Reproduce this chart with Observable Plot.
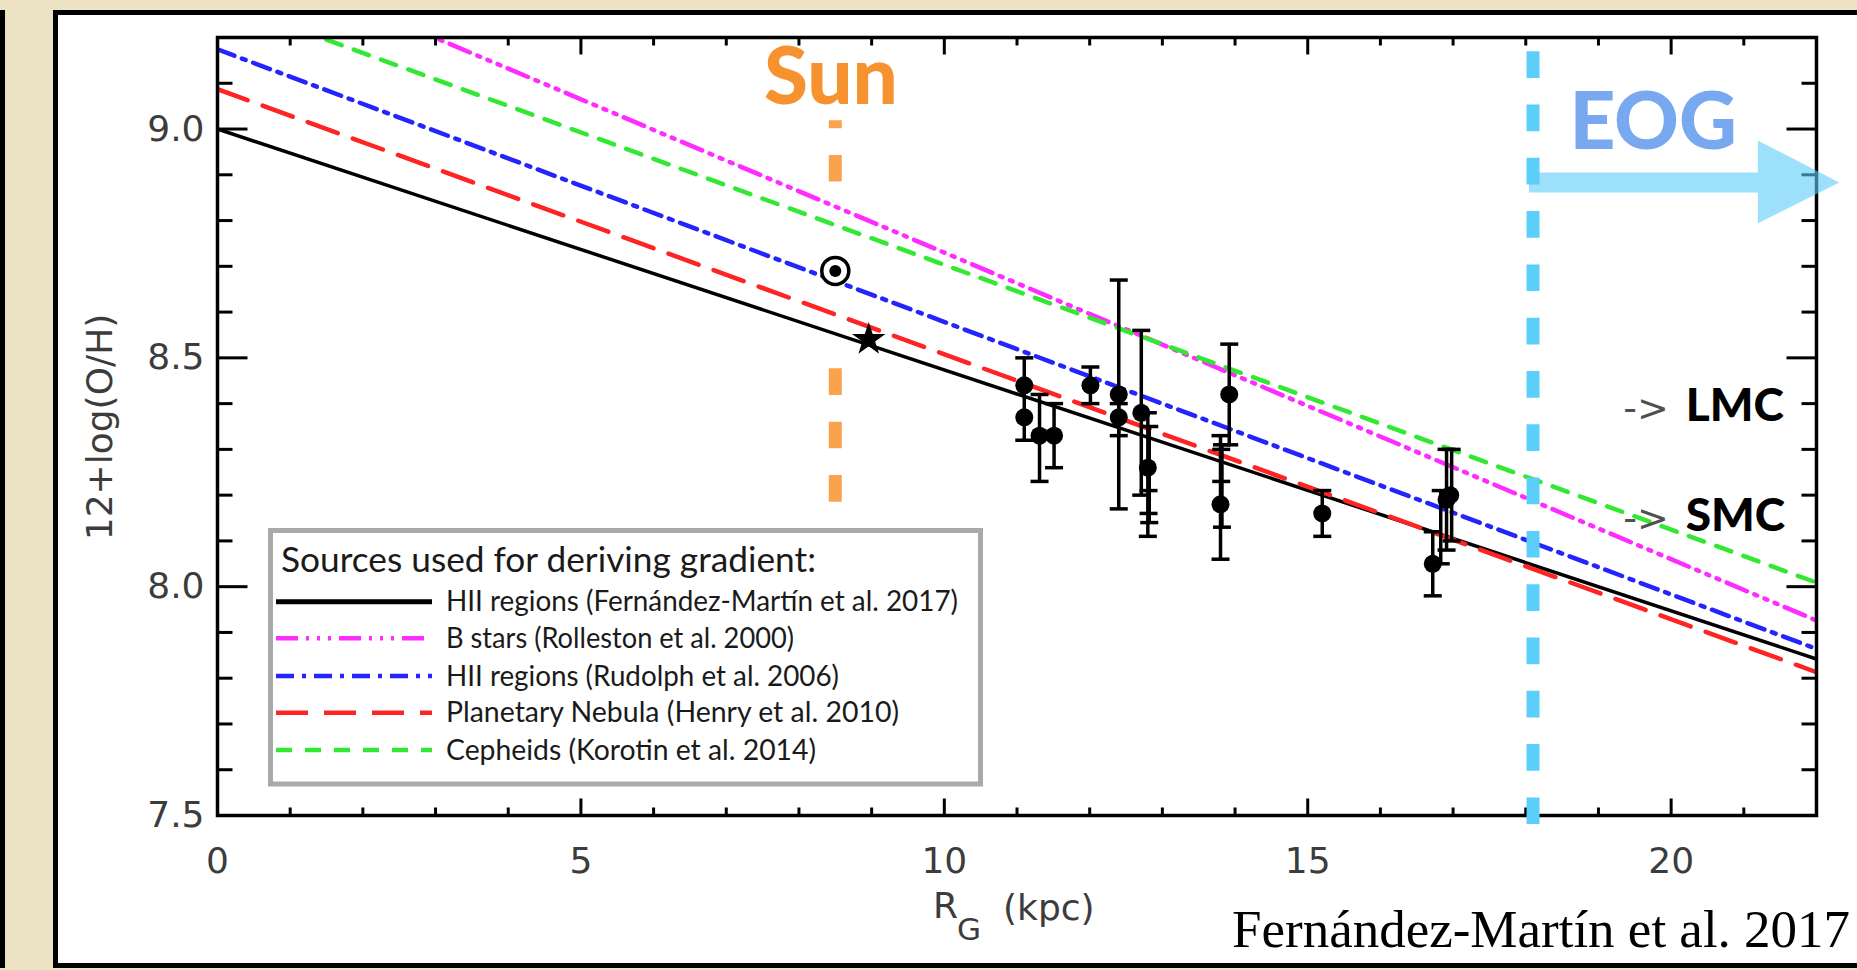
<!DOCTYPE html>
<html><head><meta charset="utf-8">
<script src="https://cdn.jsdelivr.net/npm/d3@7"></script>
<script src="https://cdn.jsdelivr.net/npm/@observablehq/plot@0.6"></script>
<style>
html,body{margin:0;padding:0;}
body{width:1857px;height:970px;overflow:hidden;background:#ebe3c4;position:relative;}
#leftbar{position:absolute;left:0;top:10px;width:5px;height:958px;background:#000;}
#panel{position:absolute;left:53px;top:10px;width:1830px;height:958px;box-sizing:border-box;border:5px solid #000;border-right:none;background:#fff;}
#chart{position:absolute;left:0;top:0;}
#overlay{position:absolute;left:0;top:0;pointer-events:none;}
</style></head><body>
<div id="leftbar"></div><div id="panel"></div><div id="chart"></div>
<svg id="overlay" width="1857" height="970">
  <g font-family="'DejaVu Sans', sans-serif" fill="#3c3c3c" font-size="36">
    <text transform="translate(112,427) rotate(-90)" text-anchor="middle">12+log(O/H)</text>
    <text x="933" y="918">R</text>
    <text x="957" y="940" font-size="31">G</text>
    <text x="1003" y="920">(kpc)</text>
  </g>
  <text x="1232" y="947" font-family="'Liberation Serif', serif" font-size="53" fill="#000">Fernández-Martín et al. 2017</text>
  <g id="legend"></g>
</svg>
<script>
// ---------- data ----------
const xDomain = [0, 22];
const yDomain = [7.5, 9.2];
const xMajorTicks = [0, 5, 10, 15, 20];
const xMinorTicks = [1, 2, 3, 4, 6, 7, 8, 9, 11, 12, 13, 14, 16, 17, 18, 19, 21];
const yMajorTicks = [7.5, 8.0, 8.5, 9.0];
const yMinorTicks = [7.6, 7.7, 7.8, 7.9, 8.1, 8.2, 8.3, 8.4, 8.6, 8.7, 8.8, 8.9, 9.1];

const gradientNames = [
  "HII regions (Fernández-Martín et al. 2017)",
  "B stars (Rolleston et al. 2000)",
  "HII regions (Rudolph et al. 2006)",
  "Planetary Nebula (Henry et al. 2010)",
  "Cepheids (Korotin et al. 2014)"
];
const gradientStartR = [0, 0, 0, 0, 0];
const gradientStartOH = [9.00, 9.40, 9.174, 9.087, 9.282];
const gradientEndR = [22, 22, 22, 22, 22];
const gradientEndOH = [7.842, 7.926, 7.864, 7.813, 8.009];

// HII region measurements (this work)
const hiiR  = [11.10, 11.10, 11.31, 11.51, 12.01, 12.40, 12.40, 12.71, 12.80, 13.80, 13.92, 15.20, 16.72, 16.91, 16.96];
const hiiOH = [8.44, 8.37, 8.33, 8.33, 8.44, 8.42, 8.37, 8.38, 8.26, 8.18, 8.42, 8.16, 8.05, 8.19, 8.20];
const errR  = [11.10, 11.31, 11.51, 12.01, 12.40, 12.40, 12.71, 12.80, 12.82, 12.81, 13.80, 13.82, 13.81, 13.92, 15.20, 16.72, 16.83, 16.91, 16.98];
const errLo = [8.32, 8.23, 8.26, 8.40, 8.17, 8.33, 8.20, 8.11, 8.14, 8.16, 8.06, 8.13, 8.23, 8.31, 8.11, 7.98, 8.05, 8.08, 8.10];
const errHi = [8.50, 8.42, 8.40, 8.48, 8.67, 8.40, 8.56, 8.38, 8.35, 8.21, 8.33, 8.31, 8.30, 8.53, 8.21, 8.12, 8.21, 8.30, 8.30];

const solarR = [8.5];   const solarOH = [8.69];
const starR = [8.96];   const starOH = [8.54];

const sunLabel = ["Sun"]; const sunLabelR = [8.44]; const sunLabelOH = [9.055];
const sunLineR = [8.5, 8.5]; const sunLineTop = [9.018, 8.476]; const sunLineBottom = [8.882, 8.183];

const eogLabel = ["EOG"]; const eogLabelR = [18.6]; const eogLabelOH = [8.956];
const eogLineR = [18.1]; const eogLineTop = [9.169]; const eogLineBottom = [7.48];
const eogArrowR  = [18.05, 21.2, 21.2, 22.32];
const eogArrowLo = [8.860, 8.860, 8.793, 8.882];
const eogArrowHi = [8.904, 8.904, 8.974, 8.882];

const cloudNames = ["LMC", "SMC"];
const cloudOH = [8.362, 8.122];
const cloudArrowR = [19.34, 19.34];
const cloudLabelR = [20.2, 20.2];

// ---------- styles ----------
const lineStyle = {
  color: ["#000000", "#ff2cff", "#2424ff", "#ff2424", "#33e833"],
  width: [3.5, 4.5, 4.5, 4.5, 4.5],
  dash: [undefined, "22,8,3,8,3,8,3,8", "18,8,4,8", "32,16", "16,13"]
};

// ---------- tables ----------
const gradRows = gradientNames.map((name, i) => [
  {name, r: gradientStartR[i], oh: gradientStartOH[i]},
  {name, r: gradientEndR[i], oh: gradientEndOH[i]}
]);
const pointRows = hiiR.map((r, i) => ({r, oh: hiiOH[i]}));
const errRows = errR.map((r, i) => ({r, lo: errLo[i], hi: errHi[i]}));
const solarRows = solarR.map((r, i) => ({r, oh: solarOH[i]}));
const starRows = starR.map((r, i) => ({r, oh: starOH[i]}));
const sunLineRows = sunLineR.map((r, i) => ({r, top: sunLineTop[i], bottom: sunLineBottom[i]}));
const eogLineRows = eogLineR.map((r, i) => ({r, top: eogLineTop[i], bottom: eogLineBottom[i]}));
const arrowRows = eogArrowR.map((r, i) => ({r, lo: eogArrowLo[i], hi: eogArrowHi[i]}));
const cloudRows = cloudNames.map((name, i) => ({name, oh: cloudOH[i], ra: cloudArrowR[i], rl: cloudLabelR[i]}));

const seg = (dx, dy) => ({draw(ctx) { ctx.moveTo(0, 0); ctx.lineTo(dx, dy); }});
const capSym = {draw(ctx) { ctx.moveTo(-9, 0); ctx.lineTo(9, 0); }};
const tickOpts = {stroke: "#000", strokeWidth: 3, fill: "none"};
const capOpts = {stroke: "#000", strokeWidth: 3.5, fill: "none"};

const marks = [
  ...gradRows.map((rows, i) => Plot.line(rows, {
    x: "r", y: "oh", stroke: lineStyle.color[i], strokeWidth: lineStyle.width[i],
    strokeDasharray: lineStyle.dash[i], clip: true
  })),
  Plot.ruleX(errRows, {x: "r", y1: "lo", y2: "hi", stroke: "#000", strokeWidth: 3.5}),
  Plot.dot(errRows, {x: "r", y: "lo", symbol: capSym, ...capOpts}),
  Plot.dot(errRows, {x: "r", y: "hi", symbol: capSym, ...capOpts}),
  Plot.dot(pointRows, {x: "r", y: "oh", r: 9, fill: "#000"}),
  Plot.dot(solarRows, {x: "r", y: "oh", r: 13.5, stroke: "#000", strokeWidth: 3.5, fill: "#fff"}),
  Plot.dot(solarRows, {x: "r", y: "oh", r: 6, fill: "#000"}),
  Plot.dot(starRows, {x: "r", y: "oh", symbol: "star", r: 10.5, fill: "#000"}),
  // Sun
  Plot.ruleX([sunLineRows[0]], {x: "r", y1: "top", y2: "bottom", stroke: "#fba24f", strokeWidth: 13, strokeDasharray: "26.7,26.6", strokeDashoffset: 18.7}),
  Plot.ruleX([sunLineRows[1]], {x: "r", y1: "top", y2: "bottom", stroke: "#fba24f", strokeWidth: 13, strokeDasharray: "26.7,26.6"}),
  Plot.text(sunLabel, {x: (d, i) => sunLabelR[i], y: (d, i) => sunLabelOH[i], text: d => d, fontFamily: "Lato, sans-serif", fontWeight: 900, fontSize: 80, fill: "#f79230", lineAnchor: "bottom", textAnchor: "middle"}),
  // frame & ticks
  Plot.frame({stroke: "#000", strokeWidth: 3.5}),
  Plot.dot(xMajorTicks, {x: d => d, y: () => yDomain[0], symbol: seg(0, -17), ...tickOpts}),
  Plot.dot(xMajorTicks, {x: d => d, y: () => yDomain[1], symbol: seg(0, 17), ...tickOpts}),
  Plot.dot(xMinorTicks, {x: d => d, y: () => yDomain[0], symbol: seg(0, -8), ...tickOpts}),
  Plot.dot(xMinorTicks, {x: d => d, y: () => yDomain[1], symbol: seg(0, 8), ...tickOpts}),
  Plot.dot(yMajorTicks, {x: () => xDomain[0], y: d => d, symbol: seg(30, 0), ...tickOpts}),
  Plot.dot(yMajorTicks, {x: () => xDomain[1], y: d => d, symbol: seg(-30, 0), ...tickOpts}),
  Plot.dot(yMinorTicks, {x: () => xDomain[0], y: d => d, symbol: seg(15, 0), ...tickOpts}),
  Plot.dot(yMinorTicks, {x: () => xDomain[1], y: d => d, symbol: seg(-15, 0), ...tickOpts}),
  Plot.axisX({ticks: xMajorTicks, tickSize: 0, tickPadding: 32, fontSize: 36, color: "#3c3c3c", label: null}),
  Plot.axisY({ticks: yMajorTicks, tickSize: 0, tickPadding: 13, fontSize: 36, color: "#3c3c3c", label: null, tickFormat: d => d.toFixed(1)}),
  // EOG
  Plot.ruleX(eogLineRows, {x: "r", y1: "top", y2: "bottom", stroke: "#5bcffa", strokeWidth: 13, strokeDasharray: "26.7,26.6"}),
  Plot.areaY(arrowRows, {x: "r", y1: "lo", y2: "hi", fill: "#5ccbf9", fillOpacity: 0.6}),
  Plot.text(eogLabel, {x: (d, i) => eogLabelR[i], y: (d, i) => eogLabelOH[i], text: d => d, fontFamily: "Lato, sans-serif", fontWeight: 900, fontSize: 80, fill: "#78a8f0", lineAnchor: "bottom", textAnchor: "start"}),
  // LMC / SMC
  Plot.text(cloudRows, {x: "ra", y: "oh", text: () => "->", fontFamily: "'DejaVu Sans', sans-serif", fontSize: 38, fill: "#505050", lineAnchor: "bottom", textAnchor: "start"}),
  Plot.text(cloudRows, {x: "rl", y: "oh", text: "name", fontFamily: "Lato, sans-serif", fontWeight: 900, fontSize: 46, fill: "#000", lineAnchor: "bottom", textAnchor: "start"})
];

const chart = Plot.plot({
  width: 1857, height: 970,
  marginLeft: 217, marginRight: 41, marginTop: 37, marginBottom: 155,
  x: {domain: xDomain, label: null},
  y: {domain: yDomain, label: null},
  style: {background: "transparent", fontFamily: "'DejaVu Sans', sans-serif", overflow: "visible"},
  marks
});
document.getElementById("chart").appendChild(chart);

// ---------- legend (inside plot area) ----------
const legendTitle = "Sources used for deriving gradient:";
const ns = "http://www.w3.org/2000/svg";
const lg = document.getElementById("legend");
function el(tag, attrs, text) {
  const e = document.createElementNS(ns, tag);
  for (const k in attrs) e.setAttribute(k, attrs[k]);
  if (text != null) e.textContent = text;
  lg.appendChild(e);
  return e;
}
el("rect", {x: 270.5, y: 530.5, width: 710, height: 253.5, fill: "#fff", stroke: "#a8aaaa", "stroke-width": 5});
el("text", {x: 281, y: 571.5, "font-family": "Lato, sans-serif", "font-size": 34, fill: "#1a1a1a", textLength: 535, lengthAdjust: "spacingAndGlyphs"}, legendTitle);
const rowY = [601.7, 638.3, 676, 712.7, 750];
const textW = [512, 348, 393, 453, 370];
gradientNames.forEach((name, i) => {
  el("line", {x1: 276, x2: 432, y1: rowY[i], y2: rowY[i], stroke: lineStyle.color[i], "stroke-width": i === 0 ? 5 : 4.5,
    ...(lineStyle.dash[i] ? {"stroke-dasharray": lineStyle.dash[i]} : {})});
  el("text", {x: 446, y: rowY[i] + 9.5, "font-family": "Lato, sans-serif", "font-size": 28, fill: "#1a1a1a", textLength: textW[i], lengthAdjust: "spacingAndGlyphs"}, name);
});
</script>
</body></html>
